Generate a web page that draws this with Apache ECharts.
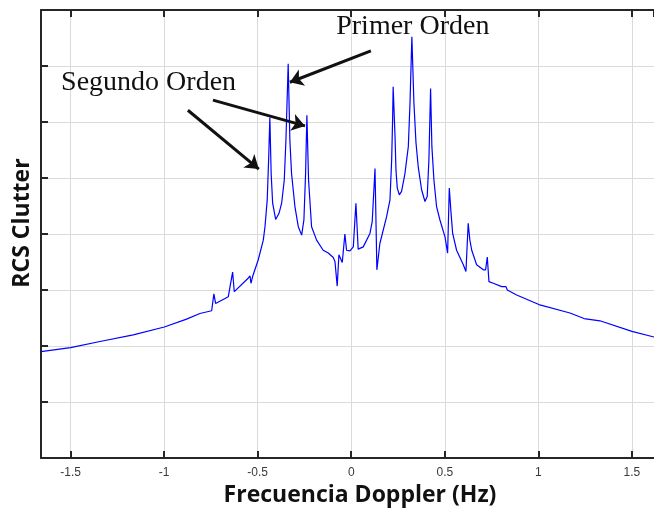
<!DOCTYPE html>
<html>
<head>
<meta charset="utf-8">
<script src="https://cdn.jsdelivr.net/npm/echarts@6/dist/echarts.min.js"></script>
<style>
  html, body { margin: 0; padding: 0; background: #fff; }
  #rcsChart { width: 654px; height: 509px; }
</style>
</head>
<body>
<div id="rcsChart"></div>
<script>
// doppler frequency (Hz) and clutter level (arbitrary units, 10 per grid step)
const freqHz = [
  -1.658, -1.500, -1.343, -1.165, -0.999, -0.880, -0.809, -0.746, -0.734, -0.725,
  -0.657, -0.634, -0.625, -0.551, -0.541, -0.536, -0.527, -0.497, -0.470, -0.461,
  -0.449, -0.441, -0.435, -0.428, -0.420, -0.404, -0.386, -0.372, -0.358, -0.349,
  -0.337, -0.328, -0.319, -0.301, -0.283, -0.265, -0.253, -0.244, -0.237, -0.228,
  -0.212, -0.185, -0.150, -0.123, -0.096, -0.087, -0.075, -0.066, -0.048, -0.034,
  -0.025, -0.007, 0.011, 0.025, 0.037, 0.064, 0.100, 0.112, 0.127, 0.137,
  0.153, 0.189, 0.207, 0.216, 0.221, 0.224, 0.234, 0.239, 0.246, 0.257,
  0.269, 0.287, 0.305, 0.314, 0.324, 0.335, 0.346, 0.358, 0.376, 0.394,
  0.406, 0.415, 0.424, 0.431, 0.442, 0.456, 0.474, 0.501, 0.515, 0.524,
  0.533, 0.542, 0.563, 0.599, 0.613, 0.625, 0.634, 0.644, 0.670, 0.706,
  0.718, 0.727, 0.736, 0.759, 0.804, 0.827, 0.834, 0.884, 1.003, 1.169,
  1.244, 1.329, 1.500, 1.618
];
const clutter = [
  19.0, 19.7, 20.8, 22.0, 23.4, 24.8, 25.8, 26.3, 29.3, 27.6,
  28.8, 33.2, 29.7, 32.1, 32.5, 31.2, 32.4, 35.4, 38.9, 41.3,
  46.1, 53.8, 60.8, 50.8, 45.5, 42.6, 43.7, 45.5, 49.6, 56.8,
  70.4, 56.8, 50.8, 44.9, 41.3, 39.8, 42.5, 50.8, 61.2, 49.6,
  41.3, 38.9, 37.1, 36.6, 35.8, 35.1, 30.7, 36.3, 34.9, 40.0,
  37.1, 37.0, 37.7, 45.5, 37.3, 37.7, 40.1, 42.2, 51.7, 33.6,
  38.3, 43.1, 46.1, 53.2, 60.4, 66.3, 57.4, 51.4, 48.2, 47.0,
  47.6, 50.8, 55.6, 63.4, 75.2, 63.4, 56.3, 52.0, 47.9, 45.8,
  46.7, 53.2, 66.0, 55.6, 49.6, 44.9, 42.5, 39.5, 36.6, 48.2,
  43.9, 40.1, 37.1, 34.5, 33.3, 41.9, 38.9, 37.1, 34.5, 33.6,
  33.6, 35.9, 31.5, 31.2, 30.6, 30.6, 30.0, 29.1, 27.4, 25.9,
  24.9, 24.5, 22.6, 21.6
];

// annotations: text labels and arrows [fromX, fromY, toX, toY]
const labelTexts = ['Primer Orden', 'Segundo Orden'];
const labelPos = [[0.329, 77.0], [-1.083, 67.0]];
const arrows = [
  [0.105, 72.7, -0.328, 67.1],
  [-0.739, 63.9, -0.247, 59.3],
  [-0.873, 62.1, -0.494, 51.6]
];

const xMin = -1.658;
const xMax = 1.618;

let chart = echarts.init(document.getElementById('rcsChart'));

const axisDark = '#262626';
const gridGrey = '#dadada';

chart.setOption({
  backgroundColor: '#fff',
  animation: false,
  grid: {
    left: 41,
    right: 0,
    top: 10,
    bottom: 51,
    containLabel: false,
    outerBoundsMode: 'none',
  },
  xAxis: [
    {
      type: 'value',
      min: xMin,
      max: xMax,
      splitNumber: 7,
      position: 'bottom',
      name: 'Frecuencia Doppler (Hz)',
      nameLocation: 'middle',
      nameGap: 21,
      nameTextStyle: {
        fontFamily: 'Open Sans',
        fontWeight: 'bold',
        fontSize: 23,
        color: '#111',
        padding: [0, 0, 0, 25],
      },
      axisLine: { show: true, onZero: false, lineStyle: { color: axisDark, width: 2 } },
      axisTick: { show: true, inside: true, length: 7, lineStyle: { color: axisDark, width: 2 } },
      axisLabel: {
        showMinLabel: false,
        showMaxLabel: false,
        margin: 9,
        fontFamily: 'Liberation Sans',
        fontSize: 12,
        color: '#3a3a3a',
      },
      splitLine: { show: true, lineStyle: { color: gridGrey, width: 1 } },
    },
    {
      type: 'value',
      min: xMin,
      max: xMax,
      splitNumber: 7,
      position: 'top',
      axisLine: { show: true, onZero: false, lineStyle: { color: axisDark, width: 2 } },
      axisTick: { show: true, inside: true, length: 7, lineStyle: { color: axisDark, width: 2 } },
      axisLabel: { show: false },
      splitLine: { show: false },
    },
  ],
  yAxis: {
    type: 'value',
    min: 0,
    max: 80,
    interval: 10,
    name: 'RCS Clutter',
    nameLocation: 'middle',
    nameGap: 7,
    nameTextStyle: {
      fontFamily: 'Open Sans',
      fontWeight: 'bold',
      fontSize: 23,
      color: '#111',
      padding: [0, 0, 0, 22],
    },
    axisLine: { show: true, onZero: false, lineStyle: { color: axisDark, width: 2 } },
    axisTick: { show: true, inside: true, length: 7, lineStyle: { color: axisDark, width: 2 } },
    axisLabel: { show: false },
    splitLine: { show: true, lineStyle: { color: gridGrey, width: 1 } },
  },
  series: [
    {
      name: 'RCS',
      type: 'line',
      xAxisIndex: 0,
      showSymbol: false,
      symbol: 'none',
      smooth: false,
      data: freqHz.map((f, i) => [f, clutter[i]]),
      lineStyle: { color: '#0000ff', width: 1.2 },
      markLine: {
        silent: true,
        symbol: ['none', 'arrow'],
        symbolSize: 13,
        label: { show: false },
        lineStyle: { color: '#111', width: 3, type: 'solid' },
        data: arrows.map(a => [
          { coord: [a[0], a[1]] },
          { coord: [a[2], a[3]] },
        ]),
      },
      markPoint: {
        silent: true,
        symbol: 'circle',
        symbolSize: 0,
        label: {
          show: true,
          position: 'inside',
          fontFamily: 'Liberation Serif',
          fontSize: 28,
          color: '#111',
          formatter: p => p.name,
        },
        data: labelTexts.map((t, i) => ({ name: t, coord: labelPos[i] })),
      },
    },
  ],
});
</script>
</body>
</html>
